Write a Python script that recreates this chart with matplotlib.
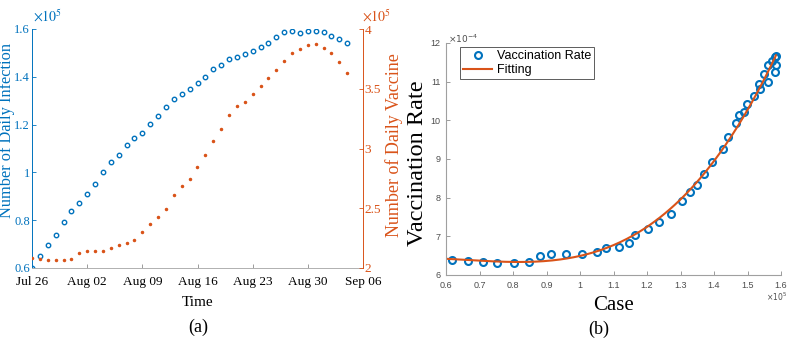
import numpy as np
import matplotlib
matplotlib.use("Agg")
import matplotlib.pyplot as plt

# ---------------- data ----------------
date_labels = ["Jul 26", "Aug 02", "Aug 09", "Aug 16", "Aug 23", "Aug 30", "Sep 06"]
days = list(range(41))  # day offsets from Jul 26
infection = [0.601, 0.652, 0.697, 0.740, 0.793, 0.839, 0.873, 0.908, 0.950, 1.000,
             1.045, 1.074, 1.116, 1.145, 1.166, 1.202, 1.236, 1.274, 1.306, 1.330,
             1.351, 1.374, 1.398, 1.431, 1.449, 1.473, 1.481, 1.495, 1.506, 1.526,
             1.542, 1.568, 1.589, 1.593, 1.583, 1.592, 1.590, 1.586, 1.569, 1.557,
             1.540]  # x1e5
vaccine = [2.087, 2.078, 2.067, 2.065, 2.065, 2.073, 2.124, 2.143, 2.145, 2.143,
           2.166, 2.191, 2.208, 2.235, 2.305, 2.367, 2.423, 2.493, 2.611, 2.687,
           2.745, 2.846, 2.947, 3.065, 3.160, 3.283, 3.359, 3.387, 3.456, 3.527,
           3.586, 3.653, 3.731, 3.796, 3.832, 3.863, 3.871, 3.840, 3.796, 3.720,
           3.630]  # x1e5

case = [0.617, 0.667, 0.709, 0.751, 0.804, 0.849, 0.881, 0.914, 0.957, 1.006,
        1.050, 1.077, 1.116, 1.145, 1.165, 1.202, 1.237, 1.271, 1.304, 1.327,
        1.349, 1.371, 1.394, 1.426, 1.443, 1.467, 1.474, 1.490, 1.499, 1.519,
        1.533, 1.536, 1.549, 1.560, 1.561, 1.574, 1.581, 1.585, 1.582, 1.584]  # x1e5
rate = [6.39, 6.37, 6.33, 6.30, 6.32, 6.34, 6.48, 6.55, 6.55, 6.54,
        6.59, 6.69, 6.73, 6.83, 7.03, 7.20, 7.38, 7.58, 7.92, 8.14,
        8.33, 8.62, 8.91, 9.26, 9.56, 9.92, 10.14, 10.21, 10.42, 10.63,
        10.93, 10.80, 11.20, 11.00, 11.42, 11.54, 11.63, 11.43, 11.25, 11.66]  # x1e-4

BLUE = "#0072BD"
ORANGE = "#D95319"
GRAY = "#8c8c8c"
TICKGRAY = "#4d4d4d"
SERIF = ["Liberation Serif", "DejaVu Serif"]
SANS = ["Liberation Sans", "DejaVu Sans"]

fig = plt.figure(figsize=(7.89, 3.43), dpi=100)

# ---------------- panel (a) ----------------
ax1 = fig.add_axes([32/789, 1-268/343, 331/789, (268-29)/343])
ax1.plot(days, infection, linestyle="none", marker="o", ms=3.2, mew=1.0,
         mfc="none", mec=BLUE)
ax1.set_xlim(0, 42)
ax1.set_ylim(0.6, 1.6)
ax1.set_xticks(range(0, 43, 7))
ax1.set_xticklabels(date_labels, family=SERIF, fontsize=9.5)
ax1.set_yticks([0.6, 0.8, 1.0, 1.2, 1.4, 1.6])
ax1.set_yticklabels(["0.6", "0.8", "1", "1.2", "1.4", "1.6"], family=SERIF,
                    fontsize=9, color=BLUE)
ax1.tick_params(axis="both", direction="in", length=3, width=0.6)
ax1.tick_params(axis="x", colors=GRAY, labelcolor="black", pad=6)
ax1.tick_params(axis="y", colors=BLUE, pad=1.5)
ax1.spines["top"].set_visible(False)
ax1.spines["bottom"].set_color("#b0b0b0")
ax1.spines["left"].set_color(BLUE)
ax1.spines["right"].set_visible(False)
for s in ax1.spines.values():
    s.set_linewidth(0.7)
ax1.set_xlabel("Time", family=SERIF, fontsize=11)
ax1.xaxis.set_label_coords(0.5, (268-296)/239)
ax1.set_ylabel("Number of Daily Infection", family=SERIF, fontsize=11.8,
               color=BLUE)
ax1.yaxis.set_label_coords((15.5-32)/331, (268-131)/239)

ax2 = ax1.twinx()
ax2.plot(days, vaccine, linestyle="none", marker=".", ms=3.0, color=ORANGE)
ax2.set_ylim(2, 4)
ax2.set_yticks([2, 2.5, 3, 3.5, 4])
ax2.set_yticklabels(["2", "2.5", "3", "3.5", "4"], family=SERIF, fontsize=9.5,
                    color=ORANGE)
ax2.tick_params(axis="y", direction="in", length=3, width=0.6, colors=ORANGE, pad=1)
for k in ["top", "bottom", "left"]:
    ax2.spines[k].set_visible(False)
ax2.spines["right"].set_color(ORANGE)
ax2.spines["right"].set_linewidth(0.7)
ax2.set_ylabel("Number of Daily Vaccine", family=SERIF, fontsize=13.0,
               color=ORANGE)
ax2.yaxis.set_label_coords((385-32)/331, (268-145)/239)

fig.text(33/789, 1-17/343, r"$\times10^{5}$", color=BLUE, fontsize=10,
         family=SERIF, math_fontfamily="stix", va="center", ha="left")
fig.text(362/789, 1-17/343, r"$\times10^{5}$", color=ORANGE, fontsize=10,
         family=SERIF, math_fontfamily="stix", va="center", ha="left")
fig.text(198/789, 1-327/343, "(a)", family=SERIF, fontsize=13,
         ha="center", va="center")

# ---------------- panel (b) ----------------
ax3 = fig.add_axes([446/789, 1-275/343, 335/789, (275-43)/343])
ax3.plot(case, rate, linestyle="none", marker="o", ms=5.0, mew=1.5,
         mfc="none", mec=BLUE, label="Vaccination Rate")
coef = np.polyfit(case, rate, 3)
xfit = np.linspace(0.6, max(case), 200)
ax3.plot(xfit, np.polyval(coef, xfit), color=ORANGE, lw=1.5, label="Fitting")
ax3.set_xlim(0.6, 1.6)
ax3.set_ylim(6, 12)
ax3.set_xticks(np.arange(0.6, 1.61, 0.1))
ax3.set_xticklabels(["0.6", "0.7", "0.8", "0.9", "1", "1.1", "1.2", "1.3",
                     "1.4", "1.5", "1.6"], family=SANS, fontsize=6.5, color=TICKGRAY)
ax3.set_yticks(range(6, 13))
ax3.set_yticklabels([str(v) for v in range(6, 13)], family=SANS, fontsize=6.5,
                    color=TICKGRAY)
ax3.tick_params(axis="both", direction="in", length=3, width=0.6, colors=GRAY,
                labelcolor=TICKGRAY)
ax3.tick_params(axis="x", pad=4)
ax3.tick_params(axis="y", pad=4)
ax3.spines["top"].set_visible(False)
ax3.spines["right"].set_visible(False)
ax3.spines["left"].set_color("#a0a0a0")
ax3.spines["bottom"].set_color("#a0a0a0")
ax3.set_xlabel("Case", family=SERIF, fontsize=15)
ax3.xaxis.set_label_coords((613-446)/335, (275-296)/232)
ax3.set_ylabel("Vaccination Rate", family=SERIF, fontsize=17.5)
ax3.yaxis.set_label_coords((428-446)/335, (275-163)/232)
leg = ax3.legend(loc="upper left", bbox_to_anchor=(14/335, 1-4/232),
                 prop={"family": SANS, "size": 9}, frameon=True, fancybox=False,
                 edgecolor="#333333", borderpad=0.25, labelspacing=0.15,
                 handlelength=2.3, handletextpad=0.4, borderaxespad=0)
leg.get_frame().set_linewidth(0.7)
fig.text(448/789, 1-39/343, r"$\times10^{-4}$", color=TICKGRAY, fontsize=6.5,
         family=SANS, va="center", ha="left")
fig.text(766/789, 1-297/343, r"$\times10^{5}$", color=TICKGRAY, fontsize=5.5,
         family=SANS, va="center", ha="left")
fig.text(599/789, 1-329/343, "(b)", family=SERIF, fontsize=13,
         ha="center", va="center")

fig.savefig("out.png", dpi=100)
